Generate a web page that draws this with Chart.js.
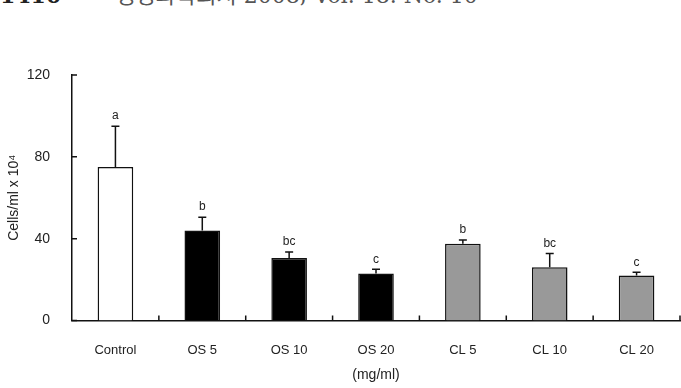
<!DOCTYPE html>
<html>
<head>
<meta charset="utf-8">
<script src="https://cdn.jsdelivr.net/npm/chart.js@4.4.1/dist/chart.umd.min.js"></script>
<style>
  body { margin: 0; background: #fff; }
  .wrap { position: relative; width: 681px; height: 388px; overflow: hidden; }
  .header { position: absolute; top: -17px; left: 0; font-size: 22px; line-height: 24px; color: #555;
            font-family: "DejaVu Serif", "Noto Sans CJK KR", serif; white-space: nowrap; }
  .header b { margin-right: 54px; color: #222; }
  canvas { position: absolute; top: 0; left: 0; }
</style>
</head>
<body>
<div class="wrap">
  <div class="header"><b>1410</b>생명과학회지 2008, Vol. 18. No. 10</div>
  <canvas id="chart1" width="681" height="388"></canvas>
</div>
<script>
// Datos de la grafica
var categorias = ['Control', 'OS 5', 'OS 10', 'OS 20', 'CL 5', 'CL 10', 'CL 20'];
var valores = [75, 44, 30.5, 23, 37.5, 26, 22];
var errores = [20, 6.5, 3, 2, 1.8, 6.8, 1.6];
var letras = ['a', 'b', 'bc', 'c', 'b', 'bc', 'c'];
var ticksY = [0, 40, 80, 120];

var fuente = '"Liberation Sans", Arial, sans-serif';

// error bars, letters and inward tick marks
var extras = {
    id: 'extras',
    afterDatasetsDraw: function(chart) {
        var ctx = chart.ctx;
        var x = chart.scales.x, y = chart.scales.y;
        var meta = chart.getDatasetMeta(0);
        ctx.save();
        ctx.strokeStyle = '#111';
        ctx.lineWidth = 1.5;
        ctx.fillStyle = '#222';
        ctx.font = '12px ' + fuente;
        ctx.textAlign = 'center';
        ctx.textBaseline = 'bottom';
        meta.data.forEach(function(bar, i) {
            var top = y.getPixelForValue(valores[i]);
            var cap = y.getPixelForValue(valores[i] + errores[i]);
            ctx.beginPath();
            ctx.moveTo(bar.x, top);
            ctx.lineTo(bar.x, cap);
            ctx.moveTo(bar.x - 4, cap);
            ctx.lineTo(bar.x + 4, cap);
            ctx.stroke();
            ctx.fillText(letras[i], bar.x, cap - 4);
        });
        // y ticks pointing inside
        ctx.beginPath();
        ticksY.forEach(function(v) {
            var py = y.getPixelForValue(v);
            ctx.moveTo(x.left, py);
            ctx.lineTo(x.left + 5, py);
        });
        // x ticks between categories
        for (var i = 1; i <= categorias.length; i++) {
            var px = x.left + (x.right - x.left) * i / categorias.length;
            ctx.moveTo(px, y.bottom);
            ctx.lineTo(px, y.bottom - 5);
        }
        ctx.stroke();
        ctx.restore();
    }
};

var ctx1 = document.getElementById('chart1').getContext('2d');
var chart1 = new Chart(ctx1, {
    type: 'bar',
    data: {
        labels: categorias,
        datasets: [{
            data: valores,
            backgroundColor: ['#ffffff', '#000000', '#000000', '#000000', '#999999', '#999999', '#999999'],
            borderColor: '#111',
            borderWidth: 1.5,
            barPercentage: 0.41,
            categoryPercentage: 1
        }]
    },
    options: {
        responsive: false,
        animation: false,
        layout: { padding: { top: 75, right: 1, left: 0, bottom: 0 } },
        plugins: { legend: { display: false }, tooltip: { enabled: false } },
        scales: {
            x: {
                grid: { display: false },
                border: { display: true, color: '#111', width: 1.5 },
                ticks: { color: '#222', font: { family: fuente, size: 13 }, padding: 14, maxRotation: 0 },
                title: { display: true, text: '(mg/ml)', color: '#222', font: { family: fuente, size: 14 }, padding: { top: 4, bottom: 4 } },
                afterFit: function(s) { s.height = 67.5; }
            },
            y: {
                min: 0,
                max: 120,
                afterBuildTicks: function(s) { s.ticks = ticksY.map(function(v) { return { value: v }; }); },
                grid: { display: false },
                border: { display: true, color: '#111', width: 1.5 },
                ticks: { color: '#222', font: { family: fuente, size: 14 }, padding: 14 },
                title: { display: true, text: 'Cells/ml x 10⁴', color: '#222', font: { family: fuente, size: 14 }, padding: { top: 6, bottom: 4 } },
                afterFit: function(s) { s.width = 72; }
            }
        }
    },
    plugins: [extras]
});
</script>
</body>
</html>
